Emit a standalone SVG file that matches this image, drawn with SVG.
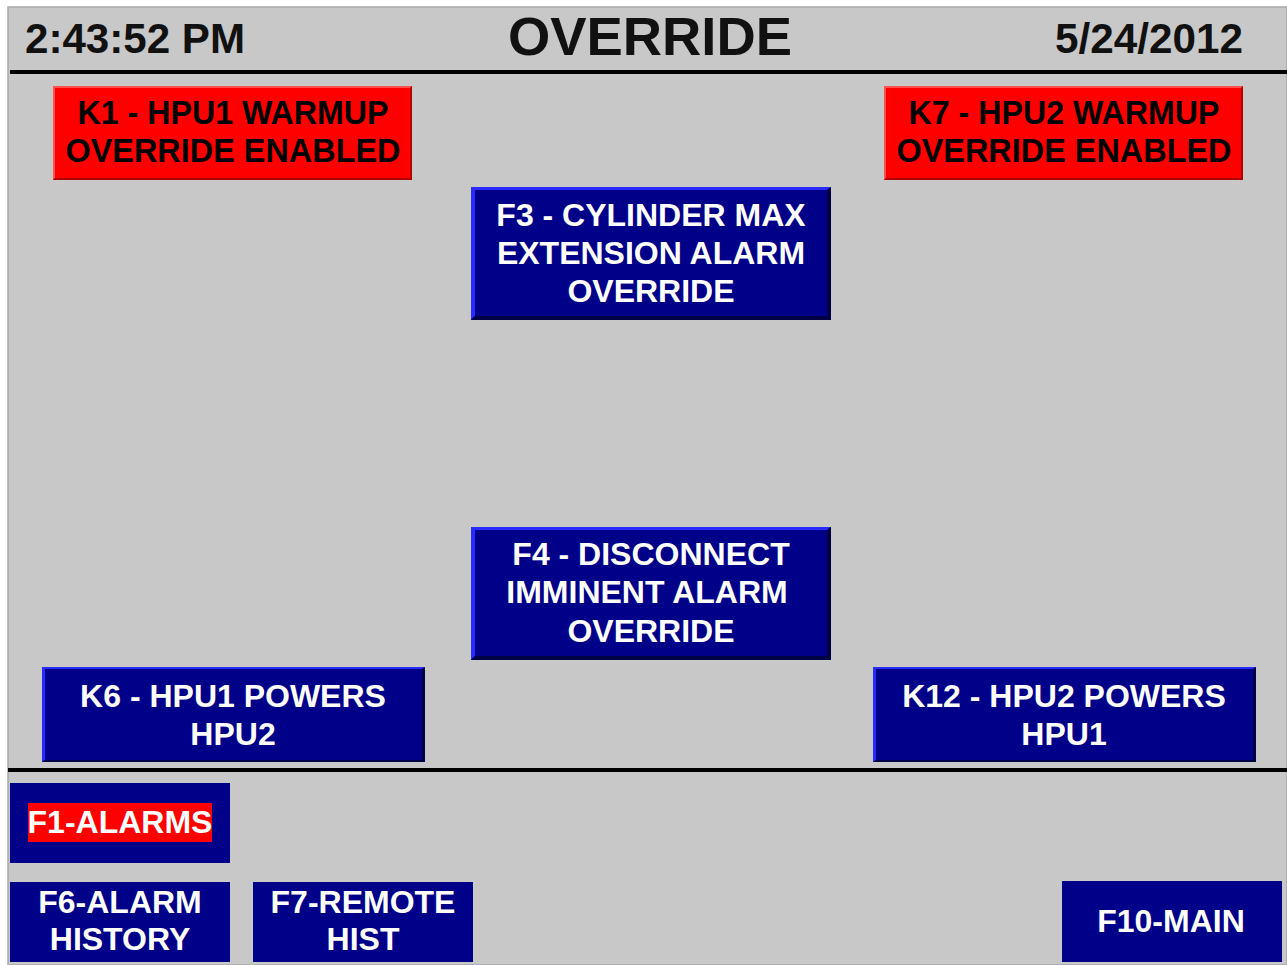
<svg xmlns="http://www.w3.org/2000/svg" width="1287" height="965" viewBox="0 0 1287 965">
<style>
text{font-family:"Liberation Sans",Arial,sans-serif;font-weight:bold;text-anchor:middle}
.hdr{fill:#111;font-size:42px}
.blk{fill:#000;font-size:33px}
.wht{fill:#fff;font-size:32px}
.navy{fill:#000088}
.lite{fill:#2a2aff}
.dark{fill:#000044}
.red{fill:#ff0000}
.redhi{fill:#ff5050}
.reddk{fill:#b00000}
.sep{stroke:#000;stroke-width:4}
</style>
<rect x="0" y="0" width="1287" height="965" fill="#ffffff"/>
<rect x="8" y="7" width="1279" height="958" fill="#c8c8c8" stroke="#a8a8a8" stroke-width="1.5"/>

<g id="header">
<text class="hdr" x="135" y="53" textLength="220" lengthAdjust="spacingAndGlyphs">2:43:52 PM</text>
<text class="hdr" x="650" y="55" style="font-size:53px" textLength="284" lengthAdjust="spacingAndGlyphs">OVERRIDE</text>
<text class="hdr" x="1149" y="53" textLength="188" lengthAdjust="spacingAndGlyphs">5/24/2012</text>
</g>
<line class="sep" x1="10" y1="72" x2="1287" y2="72"/>
<line class="sep" x1="8" y1="770" x2="1287" y2="770"/>

<g id="k1">
<rect class="red" x="53" y="86" width="359" height="94"/>
<path class="redhi" d="M53,86H412L410,88H55V178L53,180Z"/>
<path class="reddk" d="M412,86V180H53L55,178H410V88Z"/>
<text class="blk" x="233" y="124" textLength="311" lengthAdjust="spacingAndGlyphs">K1 - HPU1 WARMUP</text>
<text class="blk" x="233" y="162" textLength="335" lengthAdjust="spacingAndGlyphs">OVERRIDE ENABLED</text>
</g>

<g id="k7">
<rect class="red" x="884" y="86" width="359" height="94"/>
<path class="redhi" d="M884,86H1243L1241,88H886V178L884,180Z"/>
<path class="reddk" d="M1243,86V180H884L886,178H1241V88Z"/>
<text class="blk" x="1064" y="124" textLength="311" lengthAdjust="spacingAndGlyphs">K7 - HPU2 WARMUP</text>
<text class="blk" x="1064" y="162" textLength="335" lengthAdjust="spacingAndGlyphs">OVERRIDE ENABLED</text>
</g>

<g id="f3">
<rect class="navy" x="471" y="187" width="360" height="133"/>
<path class="lite" d="M471,187H831L827,190H475V316L471,320Z"/>
<path class="dark" d="M831,187V320H471L475,316H827V190Z"/>
<text class="wht" x="651" y="226">F3 - CYLINDER MAX</text>
<text class="wht" x="651" y="264">EXTENSION ALARM</text>
<text class="wht" x="651" y="302">OVERRIDE</text>
</g>

<g id="f4">
<rect class="navy" x="471" y="527" width="360" height="133"/>
<path class="lite" d="M471,527H831L827,530H475V656L471,660Z"/>
<path class="dark" d="M831,527V660H471L475,656H827V530Z"/>
<text class="wht" x="651" y="565">F4 - DISCONNECT</text>
<text class="wht" x="647" y="603">IMMINENT ALARM</text>
<text class="wht" x="651" y="642">OVERRIDE</text>
</g>

<g id="k6">
<rect class="navy" x="42" y="667" width="383" height="95"/>
<path class="lite" d="M42,667H425L422,669H45V760L42,762Z"/>
<path class="dark" d="M425,667V762H42L45,760H422V669Z"/>
<text class="wht" x="233" y="707">K6 - HPU1 POWERS</text>
<text class="wht" x="233" y="745">HPU2</text>
</g>

<g id="k12">
<rect class="navy" x="873" y="667" width="383" height="95"/>
<path class="lite" d="M873,667H1256L1253,669H876V760L873,762Z"/>
<path class="dark" d="M1256,667V762H873L876,760H1253V669Z"/>
<text class="wht" x="1064" y="707">K12 - HPU2 POWERS</text>
<text class="wht" x="1064" y="745">HPU1</text>
</g>

<g id="f1">
<rect class="navy" x="10" y="783" width="220" height="80"/>
<rect class="red" x="28" y="803" width="184" height="39"/>
<text class="wht" x="120" y="833">F1-ALARMS</text>
</g>

<g id="f6">
<rect class="navy" x="10" y="882" width="220" height="80"/>
<text class="wht" x="120" y="913">F6-ALARM</text>
<text class="wht" x="120" y="950">HISTORY</text>
</g>

<g id="f7">
<rect class="navy" x="253" y="882" width="220" height="80"/>
<text class="wht" x="363" y="913">F7-REMOTE</text>
<text class="wht" x="363" y="950">HIST</text>
</g>

<g id="f10">
<rect class="navy" x="1062" y="881" width="220" height="81"/>
<text class="wht" x="1171" y="932">F10-MAIN</text>
</g>

<g id="connectors"></g>
</svg>
